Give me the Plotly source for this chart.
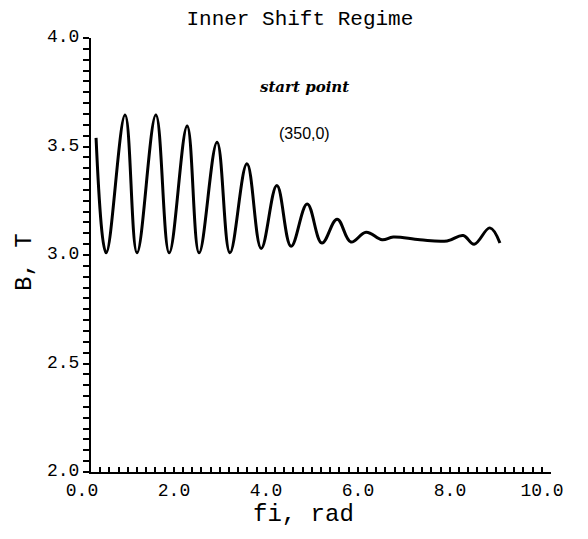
import plotly.graph_objects as go

# Field B along the orbit angle, inner shift regime (turning points of the trace)
fi_rad = [0.11, 0.33, 0.74, 1.00, 1.41, 1.70, 2.09, 2.35, 2.74, 3.02, 3.39, 3.70,
          4.04, 4.35, 4.70, 5.02, 5.35, 5.65, 5.98, 6.33, 6.57, 7.15, 7.74, 8.09,
          8.33, 8.67, 8.89]
b_tesla = [3.54, 3.01, 3.645, 3.01, 3.645, 3.01, 3.595, 3.01, 3.52, 3.01, 3.42, 3.03,
           3.32, 3.04, 3.235, 3.055, 3.165, 3.06, 3.105, 3.07, 3.083, 3.07, 3.065, 3.09,
           3.05, 3.125, 3.055]

x_ticks = [0, 2, 4, 6, 8, 10]
x_tick_text = ["0.0", "2.0", "4.0", "6.0", "8.0", "10.0"]
y_ticks = [2.0, 2.5, 3.0, 3.5, 4.0]
y_tick_text = ["2.0", "2.5", "3.0", "3.5", "4.0"]

mono = "Liberation Mono, Courier New, monospace"

fig = go.Figure()
fig.add_trace(go.Scatter(
    x=fi_rad, y=b_tesla, mode="lines",
    line=dict(color="black", width=3, shape="spline", smoothing=1.1),
    hoverinfo="skip", showlegend=False,
))

fig.update_layout(
    width=588, height=539,
    margin=dict(l=91, r=37, t=38, b=67),
    paper_bgcolor="white", plot_bgcolor="white",
    title=dict(text="Inner Shift Regime", x=0.51, xanchor="center",
               y=0.967, yanchor="middle", font=dict(family=mono, size=21, color="black")),
    xaxis=dict(
        range=[0, 10], showgrid=False, zeroline=False,
        showline=True, linecolor="black", linewidth=2,
        tickvals=x_ticks, ticktext=x_tick_text, ticklabelshift=-9,
        ticks="inside", ticklen=5, tickwidth=1.5, tickcolor="black",
        minor=dict(dtick=0.2, ticks="inside", ticklen=5, tickwidth=1.5, tickcolor="black"),
        tickfont=dict(family=mono, size=18, color="black"),
    ),
    yaxis=dict(
        range=[2, 4], showgrid=False, zeroline=False,
        showline=True, linecolor="black", linewidth=2,
        tickvals=y_ticks, ticktext=y_tick_text, ticklabelshift=-2,
        ticks="outside", ticklen=6, tickwidth=1.5, tickcolor="black",
        minor=dict(dtick=0.05, ticks="outside", ticklen=6, tickwidth=1.5, tickcolor="black"),
        tickfont=dict(family=mono, size=18, color="black"),
    ),
    annotations=[
        dict(x=0.461, y=-0.099, xref="paper", yref="paper", text="fi, rad",
             xanchor="center", yanchor="middle",
             showarrow=False, font=dict(family=mono, size=24, color="black")),
        dict(x=-0.1435, y=0.484, xref="paper", yref="paper", text="B, T", textangle=-90,
             xanchor="center", yanchor="middle",
             showarrow=False, font=dict(family=mono, size=24, color="black")),
        dict(x=4.65, y=3.774, xref="x", yref="y", text="<b><i>start point</i></b>",
             showarrow=False, font=dict(family="DejaVu Serif, serif", size=15, color="black")),
        dict(x=4.65, y=3.56, xref="x", yref="y", text="(350,0)",
             showarrow=False, font=dict(family="Liberation Sans, Arial, sans-serif", size=16, color="black")),
    ],
)

fig.write_html("out.html")
